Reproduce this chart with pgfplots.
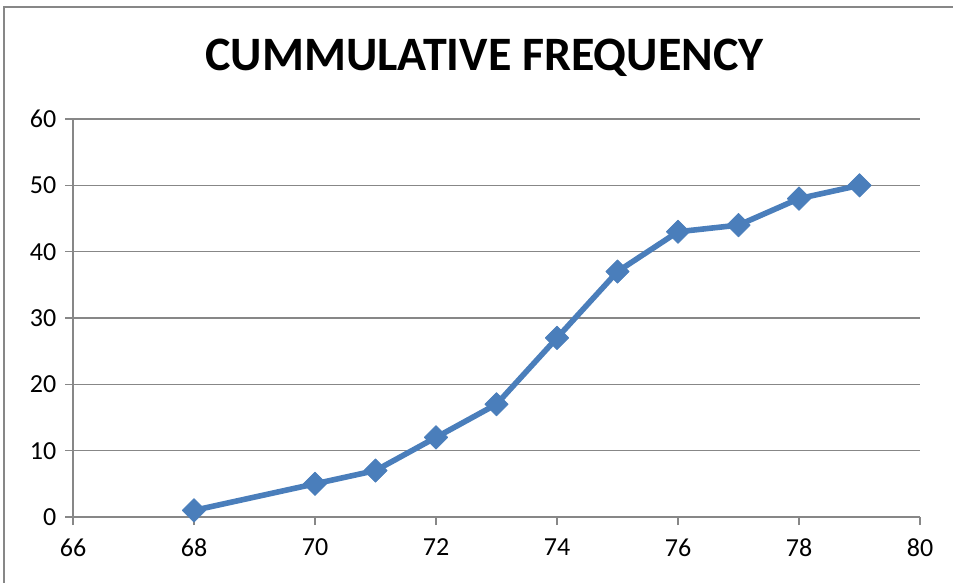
\documentclass[border=0pt]{standalone}
\usepackage{pgfplots}
\pgfplotsset{compat=1.18}
\usepackage{fontspec}
\setmainfont{Carlito}
\definecolor{seriesblue}{HTML}{4A7EBB}
\definecolor{gridgray}{HTML}{878787}
\begin{document}
\begin{tikzpicture}[x=0.75pt,y=0.75pt]
% canvas in pixel units (1px = 0.75pt), origin bottom-left
\path[use as bounding box] (0,0) rectangle (953,582);
% chart frame
\draw[gridgray, line width=1.5pt] (4,-5) -- (4,575) -- (960,575);
% title
\node[font=\fontsize{36}{42}\selectfont\bfseries] at (484.5,524) {CUMMULATIVE FREQUENCY};
\begin{axis}[
  at={(54.75pt,48.75pt)}, anchor=south west,
  scale only axis,
  width=635.25pt, height=298.5pt,
  xmin=66, xmax=80, ymin=0, ymax=60,
  xtick={66,68,...,80}, ytick={0,10,...,60},
  axis x line=bottom, axis y line=left,
  axis line style={gridgray, line width=1.2pt, -},
  ymajorgrids,
  major grid style={gridgray, line width=1.2pt},
  tick style={gridgray, line width=1.2pt},
  tick align=outside, major tick length=6pt,
  ticklabel style={font=\fontsize{19.5}{23}\selectfont},
  /pgf/number format/assume math mode=true,
  xticklabel style={yshift=-7pt},
  yticklabel style={xshift=-3pt},
  clip=false,
]
\addplot[seriesblue, line width=4.2pt, line join=round,
  mark=square*, mark size=6.2pt,
  mark options={rotate=45, fill=seriesblue, draw=seriesblue, line width=0.5pt, solid}]
  coordinates {
  (68,1) (70,5) (71,7) (72,12) (73,17) (74,27)
  (75,37) (76,43) (77,44) (78,48) (79,50)
};
\end{axis}
\end{tikzpicture}
\end{document}
